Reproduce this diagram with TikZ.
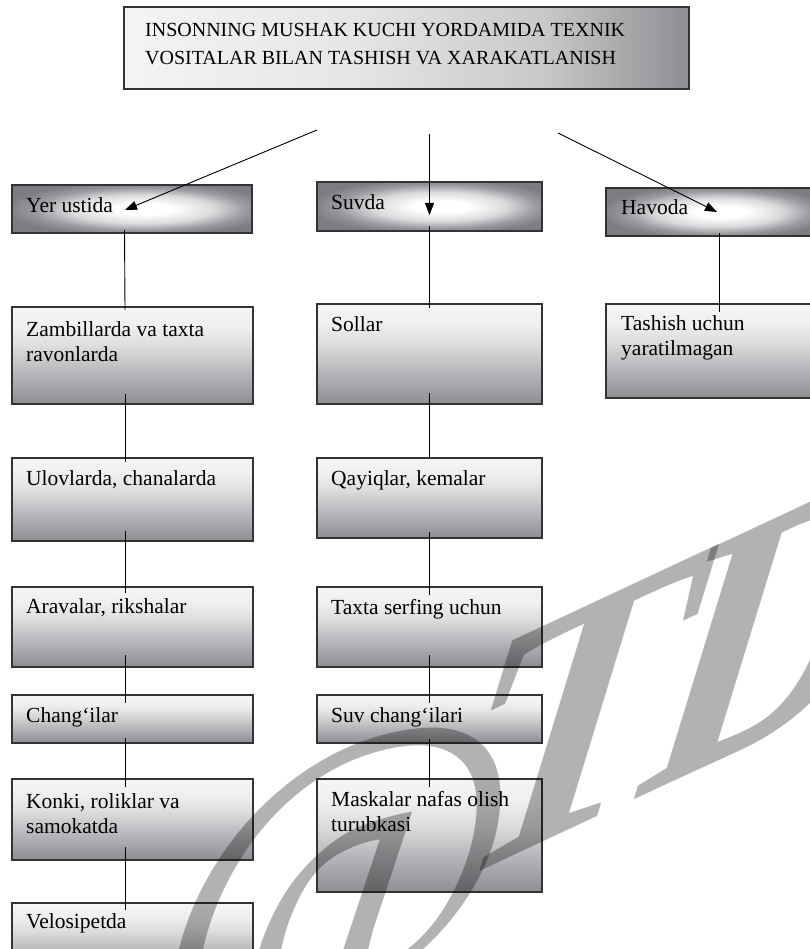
\documentclass[tikz,border=0pt]{standalone}
\usepackage{fontspec}
\setmainfont{Liberation Serif}
\usetikzlibrary{arrows.meta}
\definecolor{bordc}{HTML}{333333}
\definecolor{lA}{HTML}{F5F5F5}
\definecolor{lB}{HTML}{8D8E92}
\definecolor{lC}{HTML}{B3B4B7}
\definecolor{lD}{HTML}{DCDDDE}
\definecolor{lE}{HTML}{EFEFEF}
\definecolor{rA}{HTML}{FFFFFF}
\definecolor{rB}{HTML}{DADADC}
\definecolor{rC}{HTML}{9A9B9F}
\definecolor{rD}{HTML}{7C7D81}
\definecolor{tA}{HTML}{F4F4F4}
\definecolor{tB}{HTML}{E6E6E6}
\definecolor{tC}{HTML}{C9C9CA}
\definecolor{tD}{HTML}{8E8F92}
\pgfdeclareverticalshading{lvltwo}{100bp}{color(0bp)=(lB); color(25bp)=(lB); color(40bp)=(lC); color(55bp)=(lD); color(65bp)=(lE); color(75bp)=(lA); color(100bp)=(lA)}
\pgfdeclareradialshading{lvlone}{\pgfpoint{3bp}{0bp}}{color(0bp)=(rA); color(6bp)=(rA); color(15bp)=(rB); color(22bp)=(rC); color(28bp)=(rD); color(50bp)=(rD)}
\pgfdeclarehorizontalshading{topsh}{100bp}{color(0bp)=(tA); color(25bp)=(tA); color(45bp)=(tB); color(62bp)=(tC); color(75bp)=(tD); color(100bp)=(tD)}
\tikzset{
  box/.style={draw=bordc, line width=1.2pt, inner sep=0pt, outer sep=0pt, anchor=north west, shade},
  lone/.style={box, shading=lvlone},
  ltwo/.style={box, shading=lvltwo},
  ltop/.style={box, shading=topsh},
  lbl/.style={anchor=north west, inner sep=0pt, align=left, font=\fontsize{21.5}{25}\selectfont},
  link/.style={line width=0.9pt, draw=black},
  arr/.style={link, -{Triangle[length=12pt,width=9pt]}},
  wm/.style={anchor=base west, inner sep=0pt, text=black, text opacity=0.3}
}
\begin{document}
\begin{tikzpicture}[x=1pt,y=-1pt]
\useasboundingbox (0,0) rectangle (809,949);
% top box
\node[ltop, minimum width=565pt, minimum height=82pt] (top) at (124,7) {};
\node[lbl, font=\fontsize{20}{27.5}\selectfont] (topt) at ([xshift=21pt,yshift=-16.5pt]top.north west) {INSONNING MUSHAK KUCHI YORDAMIDA TEXNIK\\VOSITALAR BILAN TASHISH VA XARAKATLANISH};
% level one
\node[lone, minimum width=240pt, minimum height=48pt] (yer) at (12,185) {};
\node[lone, minimum width=225pt, minimum height=49pt] (suv) at (317,182) {};
\node[lone, minimum width=209pt, minimum height=48pt] (hav) at (606,188) {};
\node[lbl] (yert) at ([xshift=14pt,yshift=-12.5pt]yer.north west) {Yer ustida};
\node[lbl] (suvt) at ([xshift=14pt,yshift=-12.5pt]suv.north west) {Suvda};
\node[lbl] (havt) at ([xshift=15pt,yshift=-11pt]hav.north west) {Havoda};
% left column
\node[ltwo, minimum width=241pt, minimum height=97pt] (zam) at (12,307) {};
\node[ltwo, minimum width=241pt, minimum height=83pt] (ulo) at (12,458) {};
\node[ltwo, minimum width=241pt, minimum height=80pt] (ara) at (12,587) {};
\node[ltwo, minimum width=241pt, minimum height=48pt] (chg) at (12,695) {};
\node[ltwo, minimum width=241pt, minimum height=81pt] (kon) at (12,779) {};
\node[ltwo, minimum width=241pt, minimum height=70pt] (vel) at (12,903) {};
\node[lbl] (zamt) at ([xshift=14pt,yshift=-14.5pt]zam.north west) {Zambillarda va taxta\\ravonlarda};
\node[lbl] (ulot) at ([xshift=14pt,yshift=-12.5pt]ulo.north west) {Ulovlarda, chanalarda};
\node[lbl] (arat) at ([xshift=14pt,yshift=-11.5pt]ara.north west) {Aravalar, rikshalar};
\node[lbl] (chgt) at ([xshift=14pt,yshift=-12.5pt]chg.north west) {Chang‘ilar};
\node[lbl] (kont) at ([xshift=14pt,yshift=-14pt]kon.north west) {Konki, roliklar va\\samokatda};
\node[lbl] (velt) at ([xshift=14pt,yshift=-10.5pt]vel.north west) {Velosipetda};
% middle column
\node[ltwo, minimum width=225pt, minimum height=100pt] (sol) at (317,304) {};
\node[ltwo, minimum width=225pt, minimum height=80pt] (qay) at (317,458) {};
\node[ltwo, minimum width=225pt, minimum height=80pt] (tax) at (317,587) {};
\node[ltwo, minimum width=225pt, minimum height=48pt] (suc) at (317,695) {};
\node[ltwo, minimum width=225pt, minimum height=113pt] (mas) at (317,779) {};
\node[lbl] (solt) at ([xshift=14pt,yshift=-12.5pt]sol.north west) {Sollar};
\node[lbl] (qayt) at ([xshift=14pt,yshift=-12.5pt]qay.north west) {Qayiqlar, kemalar};
\node[lbl] (taxt) at ([xshift=14pt,yshift=-12.5pt]tax.north west) {Taxta serfing uchun};
\node[lbl] (suct) at ([xshift=14pt,yshift=-12.5pt]suc.north west) {Suv chang‘ilari};
\node[lbl] (mast) at ([xshift=14pt,yshift=-12.5pt]mas.north west) {Maskalar nafas olish\\turubkasi};
% right column
\node[ltwo, minimum width=209pt, minimum height=94pt] (tash) at (606,304) {};
\node[lbl] (tasht) at ([xshift=15pt,yshift=-11.5pt]tash.north west) {Tashish uchun\\yaratilmagan};
% arrows from the top
\coordinate (s1) at (317,130);
\coordinate (s2) at (429.5,134);
\coordinate (s3) at (558,133);
\draw[arr] (s1) -- ([xshift=-7pt,yshift=-1pt]yer.center);
\draw[arr] (s2) -- ([yshift=-8.5pt]suv.center);
\draw[arr] (s3) -- ([xshift=6.5pt]hav.center);
% left links
\draw[link] ([xshift=-7.5pt,yshift=3pt]yer.south) -- ([xshift=-7.5pt,yshift=-3pt]zam.north);
\draw[link] ([xshift=-7.5pt,yshift=10pt]zam.south) -- ([xshift=-7.5pt,yshift=-4pt]ulo.north);
\draw[link] ([xshift=-7.5pt,yshift=10pt]ulo.south) -- ([xshift=-7.5pt,yshift=-6pt]ara.north);
\draw[link] ([xshift=-7.5pt,yshift=12pt]ara.south) -- ([xshift=-7.5pt,yshift=-8pt]chg.north);
\draw[link] ([xshift=-7.5pt,yshift=5pt]chg.south) -- ([xshift=-7.5pt,yshift=-8pt]kon.north);
\draw[link] ([xshift=-7.5pt,yshift=13pt]kon.south) -- ([xshift=-7.5pt,yshift=-7pt]vel.north);
% middle links
\draw[link] ([yshift=5pt]suv.south) -- ([yshift=-4pt]sol.north);
\draw[link] ([yshift=11pt]sol.south) -- (qay.north);
\draw[link] ([yshift=6.5pt]qay.south) -- ([yshift=-8pt]tax.north);
\draw[link] ([yshift=12pt]tax.south) -- ([yshift=-8pt]suc.north);
\draw[link] ([yshift=4pt]suc.south) -- ([yshift=-7.5pt]mas.north);
% right link
\draw[link] ([xshift=8.5pt,yshift=3pt]hav.south) -- ([xshift=8.5pt,yshift=-8pt]tash.north);
% watermark
\node[wm, cm={0.966,0.259,0.139,0.990,(0,0)}, font=\fontsize{400}{400}\selectfont] (wmat) at (143,1054) {@};
\node[wm, cm={0.856,0.400,0.310,1.010,(0,0)}, font=\bfseries\fontsize{380}{380}\selectfont] (wmtdi) at (430,895) {T\kern-22pt D\kern-20pt I};
\end{tikzpicture}
\end{document}
